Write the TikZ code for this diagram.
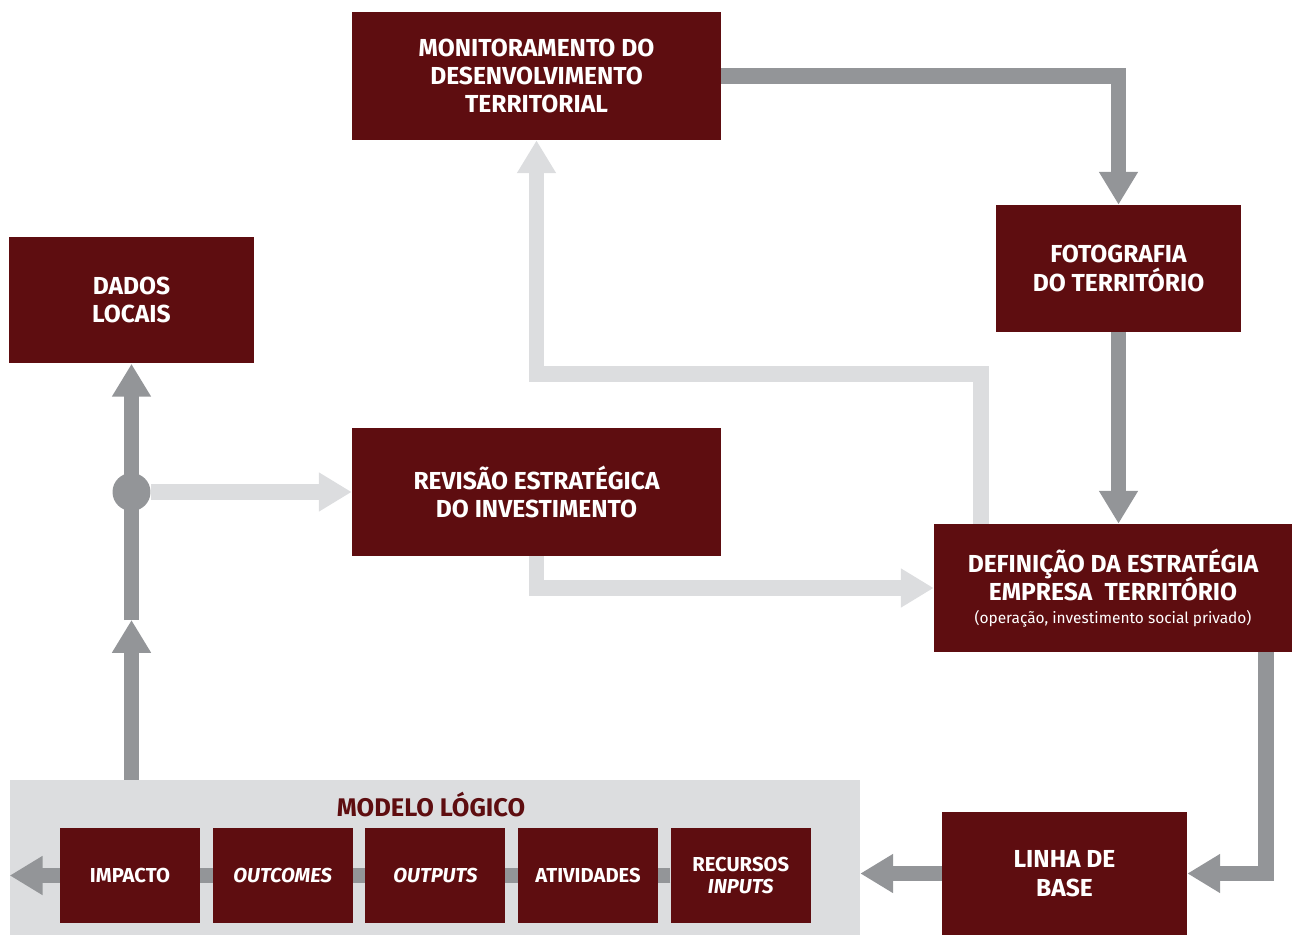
\documentclass[tikz,border=0pt]{standalone}
\usepackage{fontspec}
\setmainfont{Fira Sans}
\usepackage{tikz}
\usetikzlibrary{arrows.meta,positioning,backgrounds}
\definecolor{wine}{RGB}{94,13,16}
\definecolor{arrgray}{RGB}{147,149,152}
\definecolor{palegray}{RGB}{220,221,223}
\newcommand{\boxfont}{\bfseries\fontsize{14}{16.2}\selectfont\lineskiplimit=-20pt\relax}

\begin{document}
\begin{tikzpicture}[
  x=0.02cm, y=-0.02cm,
  box/.style={rectangle, fill=wine, text=white, align=center, inner sep=0pt,
              font=\boxfont},
  widebox/.style={box, minimum width=7.38cm, minimum height=2.56cm},
  medbox/.style={box, minimum width=4.9cm, minimum height=2.54cm},
  stepbox/.style={box, minimum width=2.8cm, minimum height=1.9cm,
                  font=\bfseries\fontsize{11.5}{12.5}\selectfont},
  panel/.style={rectangle, fill=palegray, inner sep=0pt, minimum width=17cm, minimum height=3.1cm},
  arrd/.style={draw=arrgray, line width=8.8pt, line join=miter,
               -{Triangle[length=18.7pt,width=21pt]}},
  arrl/.style={arrd, draw=palegray},
]
\useasboundingbox (0,0) rectangle (1293,935);
% main boxes
\node[widebox] (mon) at (536.5,76) {MONITORAMENTO DO\\DESENVOLVIMENTO\\TERRITORIAL};
\node[medbox] (foto) at (1118.5,268.5) {FOTOGRAFIA\\DO TERRITÓRIO};
\node[medbox] (dados) at (131.5,300) {DADOS\\LOCAIS};
\node[widebox] (rev) at (536.5,492) {REVISÃO ESTRATÉGICA\\DO INVESTIMENTO};
\node[widebox, minimum width=7.16cm] (def) at (1113,588) {DEFINIÇÃO DA ESTRATÉGIA\\EMPRESA\enspace TERRITÓRIO\\[-3pt]{\mdseries\fontsize{8.8}{11}\selectfont (operação, investimento social privado)}};
\node[medbox, minimum height=2.46cm] (linha) at (1064.5,873.5) {LINHA DE\\BASE};
% modelo logico row
\node[stepbox] (impacto) at (130,875.5) {IMPACTO};
\node[stepbox, right=0.24cm of impacto] (outcomes) {\itshape OUTCOMES};
\node[stepbox, right=0.24cm of outcomes] (outputs) {\itshape OUTPUTS};
\node[stepbox, right=0.24cm of outputs] (atividades) {ATIVIDADES};
\node[stepbox, right=0.24cm of atividades] (recursos) {RECURSOS\\\itshape INPUTS};
\begin{scope}[on background layer]
  \node[panel] (modelo) at (435,857.5) {};
  \draw[arrd] (recursos) -- (recursos -| modelo.west);
\end{scope}
\node[font=\bfseries\fontsize{14.5}{16}\selectfont, text=wine] (titulo) at (431,805) {MODELO LÓGICO};
% dark connectors
\draw[arrd] (mon) -| (foto);
\draw[arrd] (foto.south) -- (foto.south |- def.north);
\draw[arrd] ([xshift=3.06cm]def.south) |- (linha.east);
\draw[arrd] (linha) -- (linha -| modelo.east);
\coordinate (midtip) at (131.5,620);
\draw[arrd] (modelo.north -| dados) -- (midtip);
\draw[arrd] (midtip) -- (dados);
\node[circle, fill=arrgray, minimum size=0.76cm, inner sep=0pt] (hub) at (131.5,492) {};
% light connectors
\draw[arrl] (hub) -- (rev);
\draw[arrl] (rev.south) |- (def.west);
\coordinate (turn) at (536.5,374);
\draw[arrl] ([xshift=-2.64cm]def.north) |- (turn) -- (mon.south);
\end{tikzpicture}
\end{document}
